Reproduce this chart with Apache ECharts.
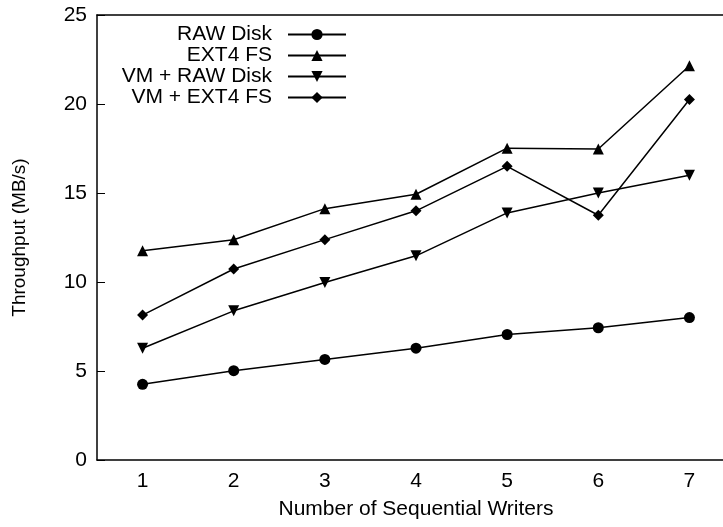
<!DOCTYPE html>
<html>
<head>
<meta charset="utf-8">
<script src="https://cdn.jsdelivr.net/npm/echarts@6/dist/echarts.min.js"></script>
<style>html,body{margin:0;padding:0;background:#fff}#c{width:723px;height:527px}</style>
</head>
<body>
<div id="c"></div>
<script>
var categories = ['1', '2', '3', '4', '5', '6', '7'];
var rawDisk = [4.25, 5.02, 5.65, 6.28, 7.05, 7.43, 8.0];
var ext4Fs = [11.75, 12.37, 14.12, 14.93, 17.52, 17.47, 22.15];
var vmRawDisk = [6.28, 8.38, 9.97, 11.47, 13.88, 15.0, 16.0];
var vmExt4Fs = [8.14, 10.73, 12.38, 14.0, 16.5, 13.75, 20.25];
var yTicks = [0, 5, 10, 15, 20, 25];

var FONT = 'Liberation Sans, Arial, sans-serif';
var FS = 21;
var seriesDefs = [
  {name: 'RAW Disk', data: rawDisk, symbol: 'circle', size: 11, rot: 0},
  {name: 'EXT4 FS', data: ext4Fs, symbol: 'triangle', size: 11, rot: 0},
  {name: 'VM + RAW Disk', data: vmRawDisk, symbol: 'triangle', size: 11, rot: 180},
  {name: 'VM + EXT4 FS', data: vmExt4Fs, symbol: 'diamond', size: 11, rot: 0}
];
var legendTops = [24, 45, 66, 87];

var chart = echarts.init(document.getElementById('c'), null, {renderer: 'canvas'});
chart.setOption({
  animation: false,
  backgroundColor: '#fff',
  textStyle: {fontFamily: FONT},
  grid: {left: 97, right: -12, top: 15, bottom: 67, containLabel: false, outerBoundsMode: 'none'},
  legend: seriesDefs.map(function (s, i) {
    return {
      data: [s.name],
      orient: 'vertical',
      align: 'right',
      right: 376,
      top: legendTops[i],
      padding: 0,
      itemWidth: 58,
      itemHeight: 14,
      selectedMode: false,
      textStyle: {fontFamily: FONT, fontSize: FS, color: '#000', padding: [0, 11, 0, 0]}
    };
  }),
  xAxis: [{
    type: 'category',
    data: categories,
    position: 'bottom',
    boundaryGap: true,
    name: 'Number of Sequential Writers',
    nameLocation: 'middle',
    nameGap: 39,
    nameTextStyle: {fontFamily: FONT, fontSize: FS, color: '#000'},
    axisLine: {lineStyle: {color: '#000', width: 1.5}},
    axisTick: {inside: true, alignWithLabel: true, length: 8, lineStyle: {color: '#000', width: 1}},
    axisLabel: {fontFamily: FONT, fontSize: FS, color: '#000', margin: 11},
    splitLine: {show: false}
  }, {
    type: 'category',
    data: categories,
    position: 'top',
    boundaryGap: true,
    axisLine: {show: true, lineStyle: {color: '#000', width: 1.5}},
    axisTick: {inside: true, alignWithLabel: true, length: 8, lineStyle: {color: '#000', width: 1}},
    axisLabel: {show: false},
    splitLine: {show: false}
  }],
  yAxis: {
    type: 'value',
    min: yTicks[0],
    max: yTicks[yTicks.length - 1],
    interval: 5,
    name: 'Throughput (MB/s)',
    nameLocation: 'middle',
    nameGap: 68,
    nameTextStyle: {fontFamily: FONT, fontSize: 19, color: '#000'},
    axisLine: {show: true, lineStyle: {color: '#000', width: 1.5}},
    axisTick: {show: true, inside: true, length: 8, lineStyle: {color: '#000', width: 1}},
    axisLabel: {fontFamily: FONT, fontSize: FS, color: '#000', margin: 10},
    splitLine: {show: false}
  },
  series: seriesDefs.map(function (s) {
    return {
      name: s.name,
      type: 'line',
      data: s.data,
      symbol: s.symbol,
      symbolSize: s.size,
      symbolRotate: s.rot,
      showAllSymbol: true,
      lineStyle: {color: '#000', width: 1.5},
      itemStyle: {color: '#000', borderWidth: 0},
      emphasis: {disabled: true}
    };
  })
});
</script>
</body>
</html>
